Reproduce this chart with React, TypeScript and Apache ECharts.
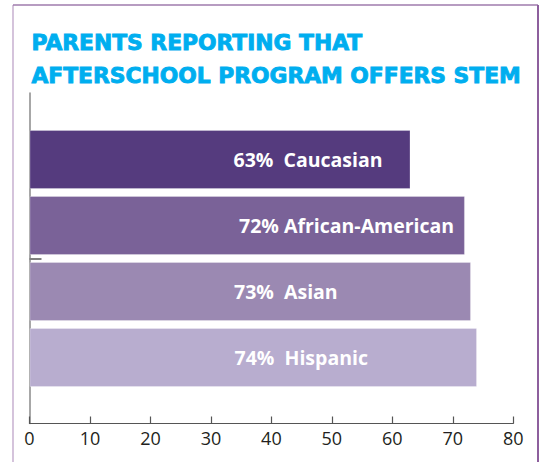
import React, { useEffect, useRef } from "react";
import * as echarts from "echarts";

const titleLines = ["PARENTS REPORTING THAT", "AFTERSCHOOL PROGRAM OFFERS STEM"];
const categories = ["Caucasian", "African-American", "Asian", "Hispanic"];
const values = [63, 72, 73, 74];
const labelSeparators = ["  ", " ", "  ", "  "];
const labelOffsets = [204, 209.5, 204.5, 205];
const barColors = ["#553b7e", "#7a6298", "#9b89b2", "#b8adcf"];
const xTicks = { min: 0, max: 80, interval: 10 };

export default function App() {
  const ref = useRef<HTMLDivElement>(null);
  useEffect(() => {
    if (!ref.current) return;
    const chart = echarts.init(ref.current, null, { renderer: "svg" });
    const left = 29.5;
    const right = 543 - 513.3;
    chart.setOption({
      animation: false,
      backgroundColor: "#ffffff",
      graphic: [
        { type: "line", shape: { x1: 13, y1: 5, x2: 13, y2: 470 }, style: { stroke: "#b99cc4", lineWidth: 1.2 } },
        { type: "line", shape: { x1: 13, y1: 5, x2: 538, y2: 5 }, style: { stroke: "#9f7bad", lineWidth: 1.5 } },
        { type: "line", shape: { x1: 538, y1: 5, x2: 538, y2: 470 }, style: { stroke: "#8d5f9d", lineWidth: 2 } },
        {
          type: "text",
          left: 31,
          top: 26,
          style: {
            text: titleLines.join("\n"),
            fill: "#00aeef",
            stroke: "#00aeef",
            lineWidth: 0.9,
            font: "bold 21.8px 'DejaVu Sans'",
            lineHeight: 33,
          },
        },
      ],
      grid: [
        { left, right, top: 93, bottom: 462 - 423.5 },
        { left, right, top: 126.5, height: 264 },
      ],
      xAxis: [
        {
          type: "value",
          gridIndex: 0,
          min: xTicks.min,
          max: xTicks.max,
          interval: xTicks.interval,
          axisLine: { show: true, lineStyle: { color: "#555555", width: 1.2 } },
          axisTick: { show: true, inside: true, length: 7, lineStyle: { color: "#555555", width: 1.2 } },
          axisLabel: { color: "#231f20", fontSize: 18, fontFamily: "Open Sans", margin: 5 },
          splitLine: { show: false },
        },
        {
          type: "value",
          gridIndex: 1,
          min: xTicks.min,
          max: xTicks.max,
          show: false,
        },
      ],
      yAxis: [
        {
          type: "value",
          gridIndex: 0,
          min: 0,
          max: 2,
          interval: 1,
          axisLine: { show: true, lineStyle: { color: "#8a8a8a", width: 1.5 } },
          axisTick: { show: true, inside: true, length: 12, customValues: [1], lineStyle: { color: "#808080", width: 2 } },
          axisLabel: { show: false },
          splitLine: { show: false },
        },
        {
          type: "category",
          gridIndex: 1,
          inverse: true,
          data: categories,
          show: false,
        },
      ],
      series: [
        {
          type: "bar",
          xAxisIndex: 1,
          yAxisIndex: 1,
          barWidth: 59,
          data: values.map((v, i) => ({
            value: v,
            itemStyle: { color: barColors[i], borderColor: "rgba(255,255,255,0.25)", borderWidth: 1 },
            label: {
              show: true,
              position: [labelOffsets[i], "50%"],
              verticalAlign: "middle",
              formatter: `${v}%${labelSeparators[i]}${categories[i]}`,
            },
          })),
          label: {
            show: true,
            color: "#ffffff",
            fontSize: 19.5,
            fontWeight: "bold",
            fontFamily: "Open Sans",
          },
        },
      ],
    });
    return () => chart.dispose();
  }, []);
  return <div ref={ref} style={{ position: "fixed", left: 0, top: 0, width: 543, height: 462 }} />;
}
